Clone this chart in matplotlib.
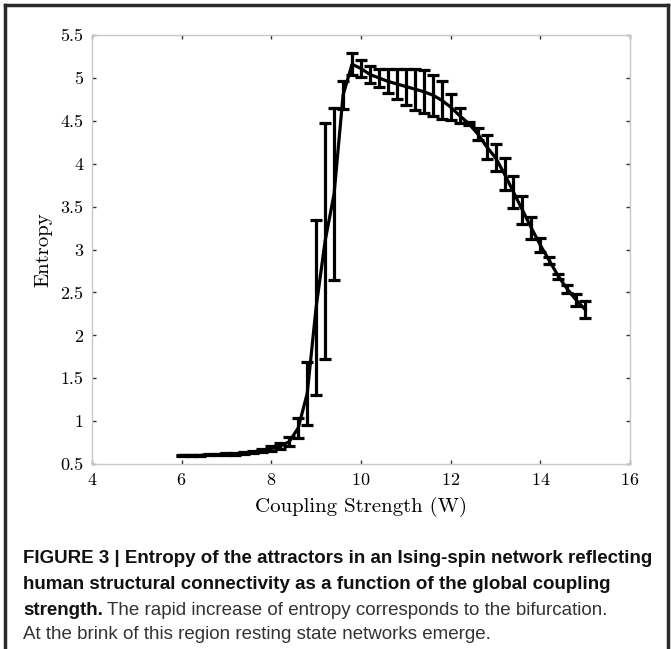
import numpy as np
import matplotlib.pyplot as plt
from matplotlib.lines import Line2D
from matplotlib.ticker import FormatStrFormatter

# coupling strength W, mean entropy and error (half length of bar)
W = np.round(np.arange(6.0, 15.01, 0.2), 1)
entropy = [0.60, 0.60, 0.60, 0.61, 0.61, 0.62, 0.62, 0.63, 0.64, 0.66,
           0.68, 0.71, 0.76, 0.92, 1.32, 2.33, 3.10, 3.65, 4.80, 5.16,
           5.11, 5.04, 5.00, 4.96, 4.93, 4.90, 4.87, 4.84, 4.80, 4.74,
           4.66, 4.56, 4.47, 4.35, 4.20, 4.07, 3.88, 3.67, 3.46, 3.25,
           3.05, 2.87, 2.69, 2.54, 2.41, 2.30]
err = [0.01, 0.01, 0.01, 0.01, 0.01, 0.01, 0.01, 0.015, 0.015, 0.02,
       0.025, 0.03, 0.05, 0.12, 0.37, 1.02, 1.38, 1.00, 0.16, 0.13,
       0.10, 0.10, 0.11, 0.14, 0.18, 0.21, 0.24, 0.25, 0.24, 0.22,
       0.15, 0.09, 0.02, 0.07, 0.14, 0.16, 0.19, 0.19, 0.16, 0.13,
       0.08, 0.04, 0.03, 0.05, 0.07, 0.10]

xticks = [4, 6, 8, 10, 12, 14, 16]
yticks = [0.5, 1, 1.5, 2, 2.5, 3, 3.5, 4, 4.5, 5, 5.5]

plt.rcParams['font.family'] = 'cmr10'
plt.rcParams['axes.formatter.use_mathtext'] = True

fig = plt.figure(figsize=(6.71, 6.49), dpi=100)
ax = fig.add_axes([0.137, 0.285, 0.802, 0.661])

ax.errorbar(W, entropy, yerr=err, color='k', lw=2.3, elinewidth=2.3,
            capsize=4, capthick=2.3)

ax.set_xlim(4, 16)
ax.set_ylim(0.5, 5.5)
ax.set_xticks(xticks)
ax.set_yticks(yticks)
ax.yaxis.set_major_formatter(FormatStrFormatter('%g'))
ax.tick_params(direction='in', length=3, width=1, color='#333333',
               top=True, right=True, labelsize=13, pad=6)
for s in ax.spines.values():
    s.set_color('#c8c8c8')
    s.set_linewidth(1)
ax.set_xlabel('Coupling Strength (W)', fontsize=15, labelpad=6)
ax.set_ylabel('Entropy', fontsize=15, labelpad=6)

# frame around the figure (left, top, right)
for xs, ys in [([0.008, 0.008], [0, 0.992]), ([0.008, 0.995], [0.992, 0.992]),
               ([0.995, 0.995], [0, 0.992])]:
    fig.add_artist(Line2D(xs, ys, color='#2a2a2a', lw=2.5, transform=fig.transFigure))

# caption
cap_font = ['Liberation Sans Narrow', 'Liberation Sans', 'DejaVu Sans']
fs = 13.5
x0 = 0.035
fig.text(x0, 0.139, 'FIGURE 3 | Entropy of the attractors in an Ising-spin network reflecting',
         family=cap_font, weight='bold', fontsize=fs, color='#111111', va='center')
fig.text(x0, 0.099, 'human structural connectivity as a function of the global coupling',
         family=cap_font, weight='bold', fontsize=fs, color='#111111', va='center')
t_bold = fig.text(x0, 0.060, 'strength.', family=cap_font, weight='bold',
                  fontsize=fs, color='#111111', va='center')
fig.canvas.draw()
bb = t_bold.get_window_extent().transformed(fig.transFigure.inverted())
fig.text(bb.x1 + 0.006, 0.060,
         'The rapid increase of entropy corresponds to the bifurcation.',
         family=cap_font, fontsize=fs, color='#333333', va='center')
fig.text(x0, 0.023, 'At the brink of this region resting state networks emerge.',
         family=cap_font, fontsize=fs, color='#333333', va='center')

fig.savefig('out.png', dpi=100)
